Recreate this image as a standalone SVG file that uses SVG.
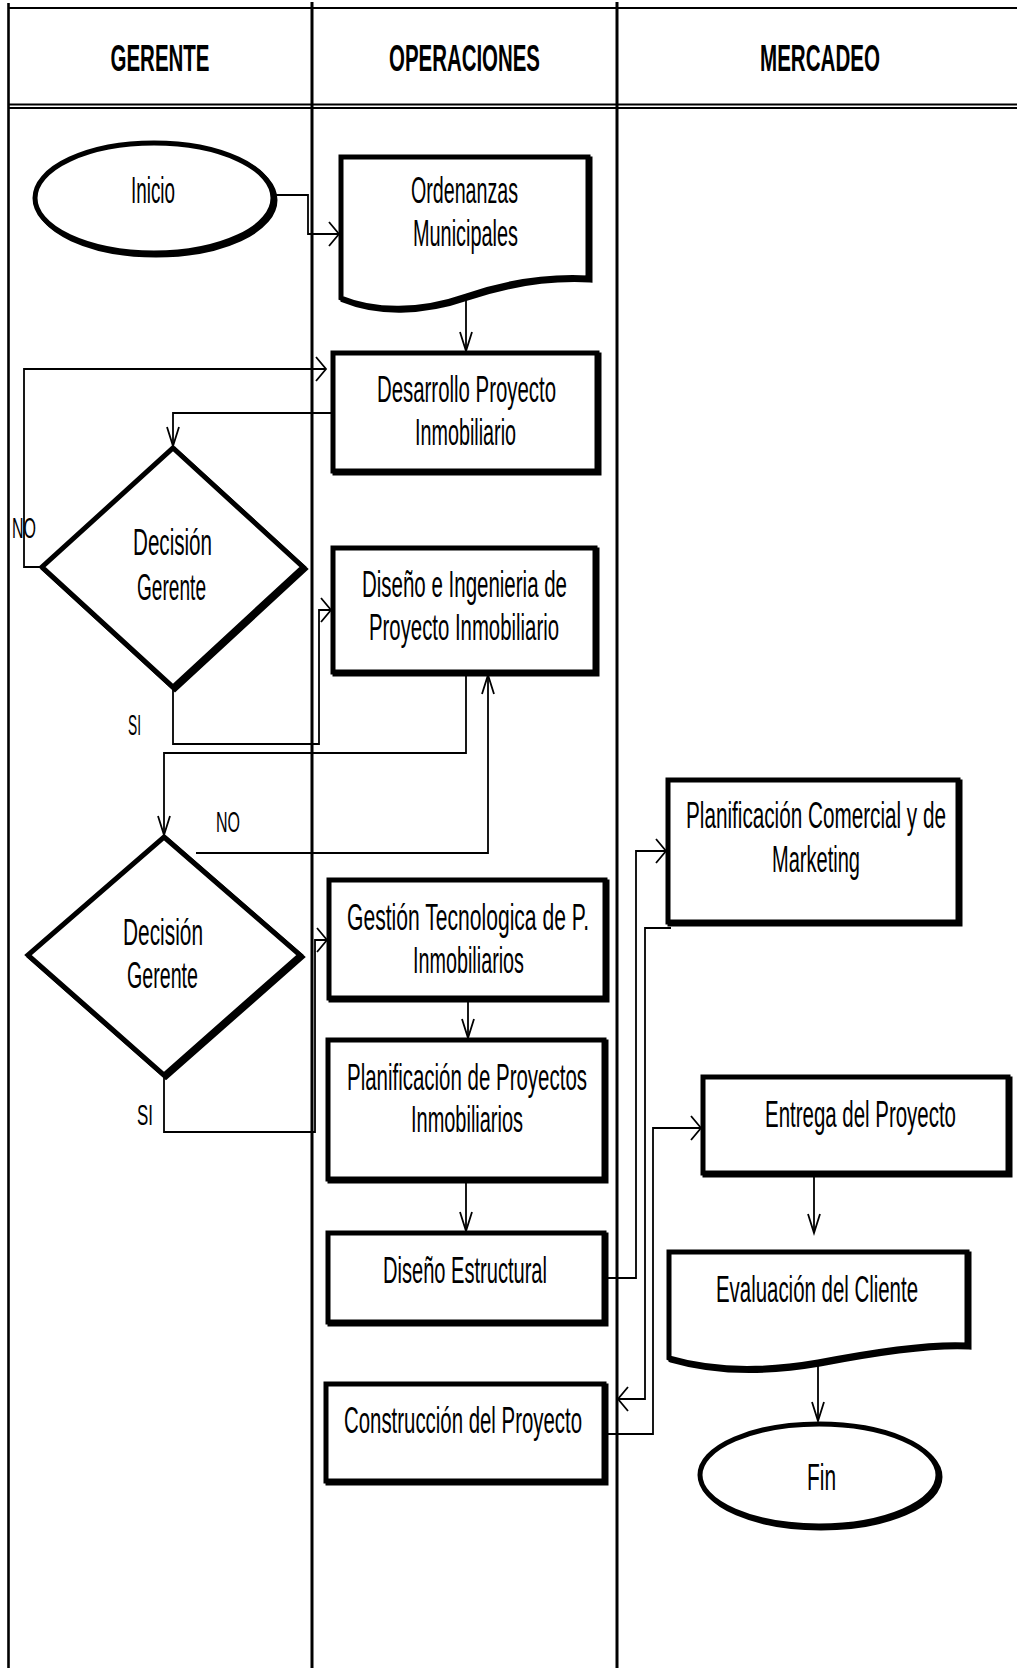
<svg xmlns="http://www.w3.org/2000/svg" width="1017" height="1668" viewBox="0 0 1017 1668">
<defs>
<style>
.lane{stroke:#000;stroke-width:3;fill:none}
.hl{stroke:#000;stroke-width:2.2;fill:none}
.hd{font-family:"Liberation Sans",Arial,sans-serif;font-weight:bold;font-size:36px;text-anchor:middle;fill:#000}
.t{font-family:"Liberation Sans",Arial,sans-serif;font-size:36px;text-anchor:middle;fill:#000}
.lb{font-family:"Liberation Sans",Arial,sans-serif;font-size:29px;text-anchor:middle;fill:#000}
.shape{fill:#fff;stroke:#000;stroke-width:5;stroke-linejoin:miter}
.sh{fill:#000;stroke:#000;stroke-width:5;stroke-linejoin:miter}
.c{fill:none;stroke:#000;stroke-width:1.8}
.ch{marker-end:url(#ah)}
.cv{marker-end:url(#av)}
</style>
<marker id="ah" markerUnits="userSpaceOnUse" orient="auto" refX="0" refY="0" markerWidth="30" markerHeight="30" viewBox="-15 -15 30 30" overflow="visible"><path d="M-10,-12 L0,0 L-10,12" fill="none" stroke="#000" stroke-width="1.8"/></marker>
<marker id="av" markerUnits="userSpaceOnUse" orient="auto" refX="0" refY="0" markerWidth="30" markerHeight="30" viewBox="-15 -15 30 30" overflow="visible"><path d="M-19,-6 L0,0 L-19,6" fill="none" stroke="#000" stroke-width="1.8"/></marker>
</defs>
<rect x="0" y="0" width="1017" height="1668" fill="#fff"/>

<g id="lanes">
<path class="hl" d="M8,8 H1017"/>
<path class="hl" d="M8,104.5 H1017"/>
<path class="hl" d="M8,108 H1017"/>
<path class="lane" d="M8.5,3 V1668" style="stroke-width:2.6"/>
<path class="lane" d="M312,2 V1668"/>
<path class="lane" d="M617,2 V1668"/>
<text class="hd" x="160" y="71" textLength="99" lengthAdjust="spacingAndGlyphs">GERENTE</text>
<text class="hd" x="464.5" y="71" textLength="151" lengthAdjust="spacingAndGlyphs">OPERACIONES</text>
<text class="hd" x="820" y="71" textLength="120" lengthAdjust="spacingAndGlyphs">MERCADEO</text>
</g>

<g id="connectors">
<path class="c ch" d="M274,195 H308 V234 H339"/>
<path class="c cv" d="M466,300 V351"/>
<path class="c cv" d="M333,413 H173 V446"/>
<path class="c ch" d="M42,567 H24 V369 H326"/>
<path class="c ch" d="M173,687 V744 H319 V610 H331"/>
<path class="c cv" d="M466,673 V753 H164 V835"/>
<path class="c cv" d="M196,853 H488 V675"/>
<path class="c ch" d="M164,1075 V1132 H315 V940 H327"/>
<path class="c cv" d="M468,998 V1038"/>
<path class="c cv" d="M466,1180 V1231"/>
<path class="c ch" d="M605,1278 H636 V851 H666"/>
<path class="c ch" d="M671,928 H645 V1399 H618"/>
<path class="c ch" d="M605,1434 H653 V1128 H701"/>
<path class="c cv" d="M814,1176 V1233"/>
<path class="c cv" d="M818,1365 V1421"/>
<text class="lb" x="24" y="538" textLength="24" lengthAdjust="spacingAndGlyphs">NO</text>
<text class="lb" x="134.5" y="735" textLength="13" lengthAdjust="spacingAndGlyphs">SI</text>
<text class="lb" x="228" y="832" textLength="24" lengthAdjust="spacingAndGlyphs">NO</text>
<text class="lb" x="145" y="1125" textLength="16" lengthAdjust="spacingAndGlyphs">SI</text>
</g>

<g id="inicio">
<ellipse class="sh" cx="156" cy="200" rx="119" ry="55"/>
<ellipse class="shape" cx="154" cy="198" rx="119" ry="55"/>
<text class="t" x="153" y="203" textLength="44" lengthAdjust="spacingAndGlyphs">Inicio</text>
</g>

<g id="ordenanzas">
<path class="sh" transform="translate(2,2)" d="M341,157 H588 V278 C550,276 510,281 466,296 C420,312 375,312 341,298 Z"/>
<path class="shape" d="M341,157 H588 V278 C550,276 510,281 466,296 C420,312 375,312 341,298 Z"/>
<text class="t" x="464.5" y="203" textLength="107" lengthAdjust="spacingAndGlyphs">Ordenanzas</text>
<text class="t" x="465.5" y="246" textLength="105" lengthAdjust="spacingAndGlyphs">Municipales</text>
</g>

<g id="desarrollo">
<rect class="sh" x="335" y="355" width="264" height="118"/>
<rect class="shape" x="333" y="353" width="264" height="118"/>
<text class="t" x="466.5" y="402" textLength="179" lengthAdjust="spacingAndGlyphs">Desarrollo Proyecto</text>
<text class="t" x="465.5" y="445" textLength="101" lengthAdjust="spacingAndGlyphs">Inmobiliario</text>
</g>

<g id="decision1">
<polygon class="sh" transform="translate(2,2)" points="173,448 303,567 173,687 42,567"/>
<polygon class="shape" points="173,448 303,567 173,687 42,567"/>
<text class="t" x="172.5" y="555" textLength="79" lengthAdjust="spacingAndGlyphs">Decisión</text>
<text class="t" x="171.5" y="600" textLength="69" lengthAdjust="spacingAndGlyphs">Gerente</text>
</g>

<g id="diseno">
<rect class="sh" x="335" y="550" width="262" height="124"/>
<rect class="shape" x="333" y="548" width="262" height="124"/>
<text class="t" x="464.5" y="597" textLength="205" lengthAdjust="spacingAndGlyphs">Diseño e Ingenieria de</text>
<text class="t" x="464" y="640" textLength="190" lengthAdjust="spacingAndGlyphs">Proyecto Inmobiliario</text>
</g>

<g id="decision2">
<polygon class="sh" transform="translate(2,2)" points="164,837 300,955 164,1075 28,955"/>
<polygon class="shape" points="164,837 300,955 164,1075 28,955"/>
<text class="t" x="163" y="945" textLength="80" lengthAdjust="spacingAndGlyphs">Decisión</text>
<text class="t" x="162.5" y="988" textLength="71" lengthAdjust="spacingAndGlyphs">Gerente</text>
</g>

<g id="gestion">
<rect class="sh" x="331" y="882" width="276" height="118"/>
<rect class="shape" x="329" y="880" width="276" height="118"/>
<text class="t" x="468" y="930" textLength="242" lengthAdjust="spacingAndGlyphs">Gestión Tecnologica de P.</text>
<text class="t" x="468.5" y="973" textLength="111" lengthAdjust="spacingAndGlyphs">Inmobiliarios</text>
</g>

<g id="planificacion">
<rect class="sh" x="330" y="1042" width="276" height="139"/>
<rect class="shape" x="328" y="1040" width="276" height="139"/>
<text class="t" x="467" y="1090" textLength="240" lengthAdjust="spacingAndGlyphs">Planificación de Proyectos</text>
<text class="t" x="467" y="1132" textLength="112" lengthAdjust="spacingAndGlyphs">Inmobiliarios</text>
</g>

<g id="estructural">
<rect class="sh" x="330" y="1235" width="276" height="89"/>
<rect class="shape" x="328" y="1233" width="276" height="89"/>
<text class="t" x="465" y="1283" textLength="164" lengthAdjust="spacingAndGlyphs">Diseño Estructural</text>
</g>

<g id="construccion">
<rect class="sh" x="328" y="1386" width="278" height="97"/>
<rect class="shape" x="326" y="1384" width="278" height="97"/>
<text class="t" x="463" y="1433" textLength="238" lengthAdjust="spacingAndGlyphs">Construcción del Proyecto</text>
</g>

<g id="comercial">
<rect class="sh" x="670" y="782" width="290" height="142"/>
<rect class="shape" x="668" y="780" width="290" height="142"/>
<text class="t" x="816" y="828" textLength="260" lengthAdjust="spacingAndGlyphs">Planificación Comercial y de</text>
<text class="t" x="816" y="872" textLength="88" lengthAdjust="spacingAndGlyphs">Marketing</text>
</g>

<g id="entrega">
<rect class="sh" x="705" y="1079" width="305" height="96"/>
<rect class="shape" x="703" y="1077" width="305" height="96"/>
<text class="t" x="860.5" y="1127" textLength="191" lengthAdjust="spacingAndGlyphs">Entrega del Proyecto</text>
</g>

<g id="evaluacion">
<path class="sh" transform="translate(2,2)" d="M669,1252 H967 V1345 C930,1343 880,1350 818,1362 C760,1372 710,1370 669,1358 Z"/>
<path class="shape" d="M669,1252 H967 V1345 C930,1343 880,1350 818,1362 C760,1372 710,1370 669,1358 Z"/>
<text class="t" x="817" y="1302" textLength="202" lengthAdjust="spacingAndGlyphs">Evaluación del Cliente</text>
</g>

<g id="fin">
<ellipse class="sh" cx="821" cy="1477" rx="119" ry="51"/>
<ellipse class="shape" cx="819" cy="1475" rx="119" ry="51"/>
<text class="t" x="821.5" y="1490" textLength="29" lengthAdjust="spacingAndGlyphs">Fin</text>
</g>
</svg>
